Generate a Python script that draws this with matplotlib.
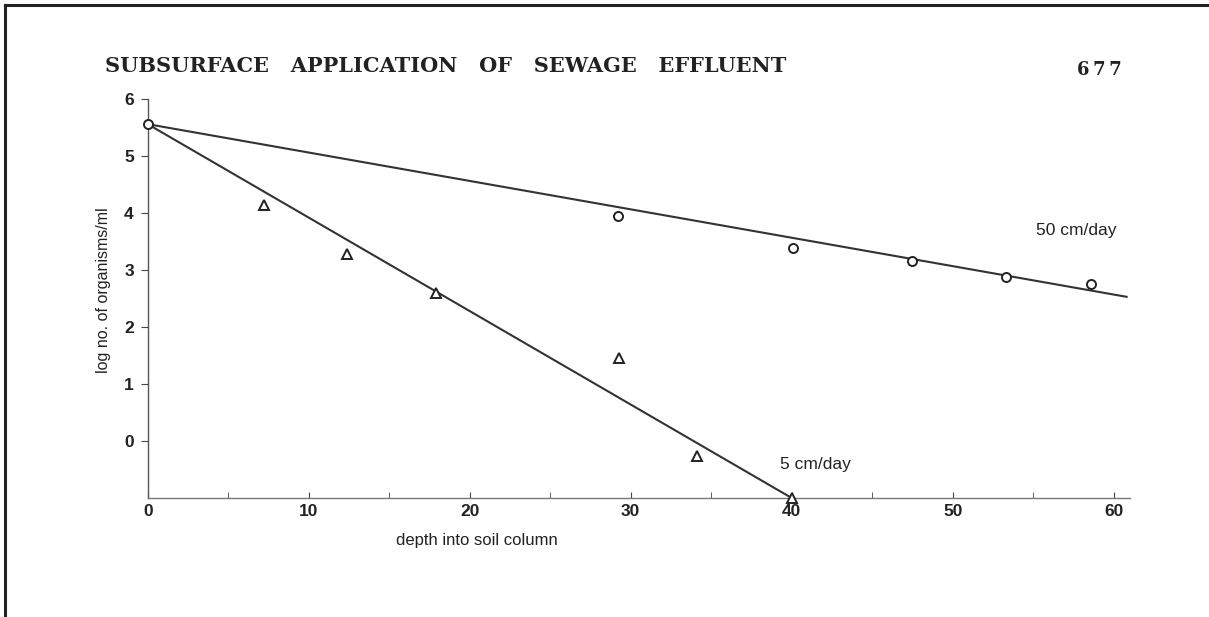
import matplotlib
matplotlib.use("Agg")
import matplotlib.pyplot as plt
from matplotlib.lines import Line2D

# ---- data ----
depth_50 = [0.0, 29.2, 40.1, 47.5, 53.3, 58.6]
logn_50 = [5.56, 3.95, 3.39, 3.16, 2.88, 2.76]
depth_5 = [7.2, 12.4, 17.9, 29.3, 34.1, 40.0]
logn_5 = [4.14, 3.28, 2.60, 1.46, -0.26, -1.0]
# fitted lines (endpoints as drawn)
fit50_x = [0.0, 60.8]
fit50_y = [5.56, 2.53]
fit5_x = [0.0, 40.0]
fit5_y = [5.56, -1.0]
xticks = [0, 10, 20, 30, 40, 50, 60]
yticks = [0, 1, 2, 3, 4, 5, 6]

title = "SUBSURFACE   APPLICATION   OF   SEWAGE   EFFLUENT"
page = "6\u20097\u20097"

W, H = 1209, 617
fig = plt.figure(figsize=(W / 100, H / 100), dpi=100)
fig.patch.set_facecolor("white")

# page frame (top and left edges of the scan)
fig.add_artist(Line2D([5 / W, 5 / W], [0, 1 - 5 / H], transform=fig.transFigure,
                      color="#222222", lw=2.2))
fig.add_artist(Line2D([5 / W, 1], [1 - 5 / H, 1 - 5 / H], transform=fig.transFigure,
                      color="#222222", lw=2.2))

sans = ["Liberation Sans", "DejaVu Sans"]

ax = fig.add_axes([147.7 / W, (H - 498) / H, 61 * 16.1 / W, (498 - 96.2) / H])
ax.set_xlim(0, 61)
ax.set_ylim(-1, 6.05)
for s in ("top", "right"):
    ax.spines[s].set_visible(False)
ax.spines["left"].set_color("#555555")
ax.spines["bottom"].set_color("#777777")
ax.spines["left"].set_linewidth(1.0)
ax.spines["bottom"].set_linewidth(1.0)
ax.spines["left"].set_bounds(-1, 6)

ax.plot(fit50_x, fit50_y, color="#333333", lw=1.5, clip_on=False)
ax.plot(fit5_x, fit5_y, color="#333333", lw=1.5, clip_on=False)
ax.plot(depth_50, logn_50, linestyle="none", marker="o", ms=6.5, mfc="white",
        mec="#222222", mew=1.4, clip_on=False, zorder=5)
ax.plot(depth_5, logn_5, linestyle="none", marker="^", ms=6.5, mfc="white",
        mec="#222222", mew=1.4, clip_on=False, zorder=5)

ax.set_xticks(xticks)
ax.set_xticklabels([str(t) for t in xticks], family=sans, fontsize=12.5,
                   fontweight="bold", color="#222222")
ax.set_xticks([5, 15, 25, 35, 45, 55], minor=True)
ax.set_yticks(yticks)
ax.set_yticklabels([str(t) for t in yticks], family=sans, fontsize=12.5,
                   fontweight="bold", color="#222222")
ax.tick_params(axis="x", which="both", direction="in", length=4, color="#444444",
               pad=4)
ax.tick_params(axis="y", direction="out", length=5, color="#444444", pad=5)

ax.set_xlabel("depth into soil column", family=sans, fontsize=12,
              color="#222222")
ax.xaxis.set_label_coords((477 - 147.7) / (61 * 16.1), -35 / (498 - 96.2))
ax.set_ylabel("log no. of organisms/ml", family=sans, fontsize=11.5,
              color="#222222")
ax.yaxis.set_label_coords(-0.037, (498 - 290) / (498 - 96.2))

ax.text(1036 / W, 1 - 231 / H, "50 cm/day", transform=fig.transFigure,
        family=sans, fontsize=12.5, color="#222222", va="center", ha="left")
ax.text(780 / W, 1 - 465 / H, "5 cm/day", transform=fig.transFigure,
        family=sans, fontsize=12.5, color="#222222", va="center", ha="left")

fig.text(105 / W, 1 - 66 / H, title, family=["DejaVu Serif"],
         fontsize=15, fontweight="bold", color="#222222", va="center", ha="left")
fig.text(1122 / W, 1 - 70 / H, page, family=["DejaVu Serif", "DejaVu Sans"],
         fontsize=13, fontweight="bold", color="#222222", va="center", ha="right")

fig.savefig("out.png", dpi=100, facecolor="white")
